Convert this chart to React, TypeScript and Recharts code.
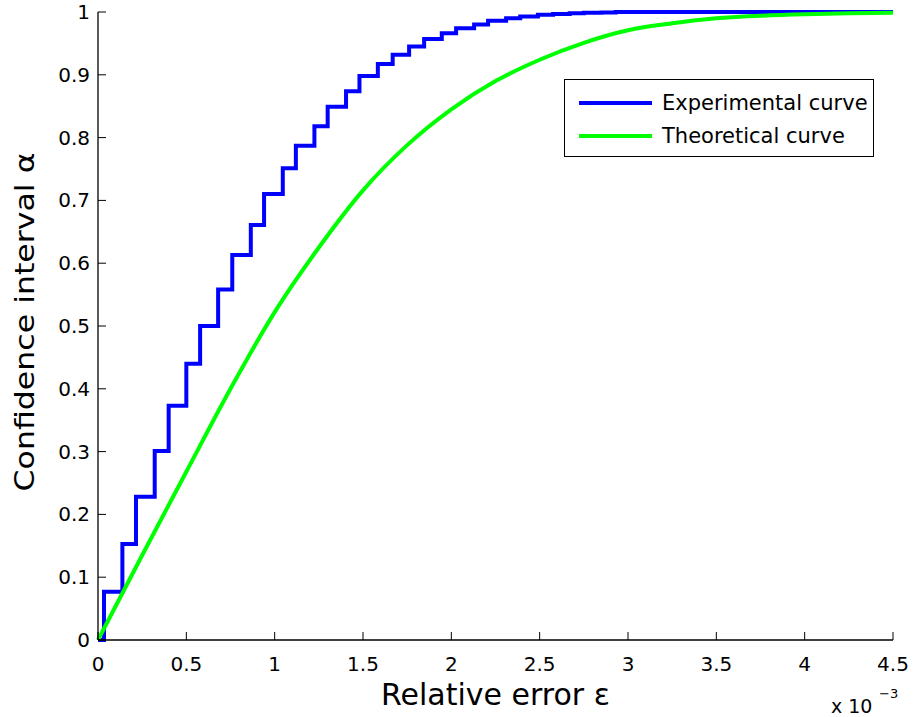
import React from 'react';
import { LineChart, Line, XAxis, YAxis, Legend } from 'recharts';

// relative error (x 10^-3) where the experimental curve steps up, and the level it steps to
const expX = [0, 0.034, 0.138, 0.215, 0.321, 0.4, 0.5, 0.578, 0.68, 0.76, 0.865, 0.94, 1.046, 1.12, 1.225, 1.3, 1.404, 1.48, 1.584, 1.668, 1.761, 1.846, 1.946, 2.027, 2.129, 2.208, 2.31, 2.39, 2.49, 2.576, 2.67, 2.75, 2.85, 2.93, 4.5];
const expY = [0, 0.077, 0.153, 0.228, 0.301, 0.373, 0.44, 0.5, 0.558, 0.613, 0.661, 0.71, 0.751, 0.787, 0.818, 0.849, 0.874, 0.898, 0.917, 0.932, 0.945, 0.957, 0.966, 0.974, 0.98, 0.986, 0.99, 0.993, 0.9955, 0.997, 0.998, 0.9988, 0.9994, 1, 1];

// theoretical curve
const theoX = [0, 0.25, 0.5, 0.75, 1, 1.25, 1.5, 1.75, 2, 2.25, 2.5, 2.75, 3, 3.25, 3.5, 3.75, 4, 4.25, 4.5];
const theoY = [0, 0.135, 0.268, 0.4, 0.522, 0.625, 0.716, 0.788, 0.845, 0.89, 0.924, 0.951, 0.971, 0.982, 0.99, 0.994, 0.9965, 0.998, 0.999];

const xTicks = [0, 0.5, 1, 1.5, 2, 2.5, 3, 3.5, 4, 4.5];
const yTicks = [0, 0.1, 0.2, 0.3, 0.4, 0.5, 0.6, 0.7, 0.8, 0.9, 1];

const expData = expX.map((x, i) => ({ x, y: expY[i] }));
const theoData = theoX.map((x, i) => ({ x, y: theoY[i] }));

const FONT = '"DejaVu Sans", sans-serif';
const TICK_LEN = 8;

const BottomTick = ({ x, y, payload }: any) => (
  <g>
    <line x1={x} x2={x} y1={y} y2={y - TICK_LEN} stroke="#000" />
    <text x={x} y={y + 31} textAnchor="middle" fontFamily={FONT} fontSize={20} fill="#000">
      {String(payload.value)}
    </text>
  </g>
);

const TopTick = ({ x, y }: any) => <line x1={x} x2={x} y1={y} y2={y + TICK_LEN} stroke="#000" />;

const LeftTick = ({ x, y, payload }: any) => (
  <g>
    <line x1={x} x2={x + TICK_LEN} y1={y} y2={y} stroke="#000" />
    <text x={x - 8} y={y + 7} textAnchor="end" fontFamily={FONT} fontSize={20} fill="#000">
      {String(payload.value)}
    </text>
  </g>
);

const RightTick = ({ x, y }: any) => <line x1={x} x2={x - TICK_LEN} y1={y} y2={y} stroke="#000" />;

const XLabel = (props: any) => {
  const vb = props.viewBox ?? { x: 98, y: 640, width: 795, height: 77 };
  const right = vb.x + vb.width;
  return (
    <g>
      <text x={vb.x + vb.width / 2} y={vb.y + 65} textAnchor="middle" fontFamily={FONT} fontSize={30} fill="#000">
        Relative error ε
      </text>
      <text x={right - 62} y={vb.y + 73} fontFamily={FONT} fontSize={19} fill="#000">
        x 10
      </text>
      <text x={right - 14} y={vb.y + 58} fontFamily={FONT} fontSize={13} fill="#000">
        −3
      </text>
    </g>
  );
};

const YLabel = (props: any) => {
  const vb = props.viewBox ?? { x: 0, y: 12, width: 98, height: 628 };
  const cx = vb.x + 34;
  const cy = vb.y + vb.height / 2 - 4;
  return (
    <text
      x={cx}
      y={cy}
      transform={`rotate(-90 ${cx} ${cy})`}
      textAnchor="middle"
      fontFamily={FONT}
      fontSize={26}
      textLength={339}
      lengthAdjust="spacingAndGlyphs"
      fill="#000"
    >
      Confidence interval α
    </text>
  );
};

const legendItems = [
  { label: 'Experimental curve', color: '#0000ff' },
  { label: 'Theoretical curve', color: '#00ff00' },
];

const LegendBox = () => (
  <div
    style={{
      width: 310,
      height: 78,
      boxSizing: 'border-box',
      border: '1.5px solid #000',
      background: '#fff',
      position: 'relative',
      fontFamily: FONT,
      fontSize: 21,
      color: '#000',
    }}
  >
    {legendItems.map((item, i) => (
      <div
        key={item.label}
        style={{ position: 'absolute', left: 14, top: 10 + i * 33, height: 26, display: 'flex', alignItems: 'center' }}
      >
        <div style={{ width: 73, height: 4, background: item.color, marginRight: 10 }} />
        <span style={{ whiteSpace: 'nowrap' }}>{item.label}</span>
      </div>
    ))}
  </div>
);

export default function App() {
  return (
    <div style={{ position: 'absolute', left: 0, top: 0, background: '#fff' }}>
      <LineChart width={914} height={717} margin={{ top: 12, right: 21, left: 0, bottom: 0 }}>
        <XAxis
          dataKey="x"
          type="number"
          domain={[0, 4.5]}
          ticks={xTicks}
          interval={0}
          height={77}
          tickSize={0}
          tickMargin={0}
          tickLine={false}
          tick={<BottomTick />}
          axisLine={{ stroke: '#000', strokeWidth: 1.3 }}
          label={{ content: XLabel }}
        />
        <XAxis
          xAxisId="top"
          orientation="top"
          dataKey="x"
          type="number"
          domain={[0, 4.5]}
          ticks={xTicks}
          interval={0}
          height={0}
          tickSize={0}
          tickMargin={0}
          tickLine={false}
          tick={<TopTick />}
          axisLine={{ stroke: '#000', strokeWidth: 1.3 }}
        />
        <YAxis
          type="number"
          domain={[0, 1]}
          ticks={yTicks}
          interval={0}
          width={98}
          tickSize={0}
          tickMargin={0}
          tickLine={false}
          tick={<LeftTick />}
          axisLine={{ stroke: '#000', strokeWidth: 1.3 }}
          label={{ content: YLabel }}
        />
        <YAxis
          yAxisId="right"
          orientation="right"
          type="number"
          domain={[0, 1]}
          ticks={yTicks}
          interval={0}
          width={0}
          tickSize={0}
          tickMargin={0}
          tickLine={false}
          tick={<RightTick />}
          axisLine={{ stroke: '#000', strokeWidth: 1.3 }}
        />
        <Legend
          layout="vertical"
          align="center"
          verticalAlign="middle"
          wrapperStyle={{ position: 'absolute', left: 564, top: 79, width: 310, height: 78 }}
          content={() => <LegendBox />}
        />
        <Line
          data={expData}
          dataKey="y"
          name="Experimental curve"
          type="stepAfter"
          stroke="#0000ff"
          strokeWidth={4}
          dot={false}
          activeDot={false}
          isAnimationActive={false}
        />
        <Line
          data={theoData}
          dataKey="y"
          name="Theoretical curve"
          type="monotone"
          stroke="#00ff00"
          strokeWidth={4}
          dot={false}
          activeDot={false}
          isAnimationActive={false}
        />
      </LineChart>
    </div>
  );
}
